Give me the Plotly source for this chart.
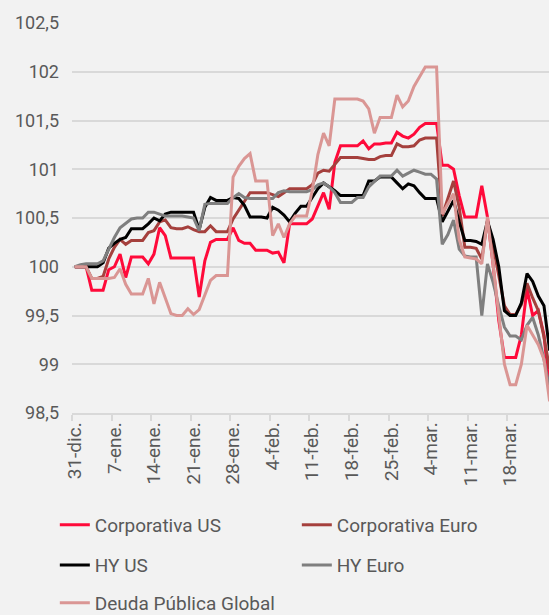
import pandas as pd
import plotly.graph_objects as go

# ---- categories (calendar days) and tick labels ----
dates = pd.date_range("2018-12-31", "2019-03-25", freq="D")
tick_dates = pd.date_range("2018-12-31", "2019-03-18", freq="7D")
tick_labels = ["31-dic.", "7-ene.", "14-ene.", "21-ene.", "28-ene.", "4-feb.",
               "11-feb.", "18-feb.", "25-feb.", "4-mar.", "11-mar.", "18-mar."]

# ---- series values (base 100) ----
corp_us = [
    100.00, 100.00, 100.00, 99.76, 99.76, 99.76, 99.97, 100.00, 100.13, 99.89,
    100.10, 100.10, 100.10, 100.03, 100.13, 100.40, 100.32, 100.09, 100.09, 100.09,
    100.09, 100.09, 99.69, 100.06, 100.25, 100.28, 100.28, 100.28, 100.40, 100.27,
    100.24, 100.24, 100.17, 100.17, 100.17, 100.14, 100.15, 100.04, 100.44, 100.44,
    100.44, 100.44, 100.49, 100.62, 100.76, 100.59, 101.07, 101.24, 101.24, 101.24,
    101.24, 101.29, 101.21, 101.26, 101.26, 101.27, 101.27, 101.38, 101.34, 101.32,
    101.36, 101.43, 101.47, 101.47, 101.47, 101.04, 101.04, 101.00, 100.73, 100.51,
    100.51, 100.51, 100.83, 100.51, 100.02, 99.45, 99.07, 99.07, 99.07, 99.30,
    99.77, 99.50, 99.55, 99.30, 98.72]

corp_eur = [
    100.00, 100.00, 100.00, 99.88, 99.88, 99.90, 100.08, 100.20, 100.28, 100.23,
    100.27, 100.27, 100.27, 100.35, 100.37, 100.46, 100.48, 100.40, 100.39, 100.39,
    100.41, 100.38, 100.36, 100.36, 100.42, 100.36, 100.36, 100.36, 100.49, 100.58,
    100.67, 100.76, 100.76, 100.76, 100.76, 100.74, 100.72, 100.76, 100.80, 100.80,
    100.80, 100.80, 100.84, 100.96, 100.99, 100.98, 101.05, 101.12, 101.12, 101.12,
    101.12, 101.11, 101.10, 101.10, 101.13, 101.14, 101.14, 101.26, 101.23, 101.23,
    101.24, 101.30, 101.32, 101.32, 101.32, 100.52, 100.70, 100.88, 100.61, 100.20,
    100.20, 100.19, 100.08, 100.47, 100.22, 99.90, 99.60, 99.51, 99.51, 99.61,
    99.83, 99.68, 99.55, 99.28, 98.95]

hy_us = [
    100.00, 100.00, 100.00, 100.00, 100.00, 100.04, 100.19, 100.24, 100.28, 100.30,
    100.39, 100.39, 100.39, 100.44, 100.50, 100.47, 100.54, 100.56, 100.56, 100.56,
    100.56, 100.56, 100.38, 100.61, 100.71, 100.68, 100.68, 100.68, 100.71, 100.70,
    100.63, 100.51, 100.51, 100.51, 100.50, 100.61, 100.58, 100.53, 100.46, 100.55,
    100.62, 100.62, 100.71, 100.80, 100.86, 100.82, 100.78, 100.73, 100.73, 100.73,
    100.73, 100.73, 100.88, 100.88, 100.92, 100.92, 100.92, 100.86, 100.80, 100.85,
    100.83, 100.76, 100.70, 100.70, 100.70, 100.46, 100.57, 100.68, 100.46, 100.27,
    100.27, 100.26, 100.23, 100.47, 100.28, 100.00, 99.55, 99.50, 99.50, 99.63,
    99.93, 99.85, 99.70, 99.60, 99.14]

hy_eur = [
    100.00, 100.02, 100.03, 100.03, 100.03, 100.06, 100.18, 100.30, 100.40, 100.45,
    100.49, 100.50, 100.50, 100.56, 100.56, 100.54, 100.52, 100.52, 100.52, 100.52,
    100.51, 100.50, 100.37, 100.64, 100.65, 100.65, 100.65, 100.65, 100.71, 100.75,
    100.71, 100.70, 100.70, 100.70, 100.70, 100.70, 100.76, 100.78, 100.77, 100.77,
    100.77, 100.77, 100.79, 100.84, 100.86, 100.82, 100.76, 100.66, 100.66, 100.66,
    100.71, 100.71, 100.82, 100.88, 100.93, 100.93, 100.93, 100.99, 100.93, 100.96,
    100.99, 100.97, 100.95, 100.95, 100.90, 100.23, 100.33, 100.48, 100.18, 100.11,
    100.10, 100.10, 99.50, 100.03, 99.84, 99.60, 99.38, 99.29, 99.29, 99.25,
    99.40, 99.48, 99.30, 99.05, 98.75]

deuda_pub = [
    100.00, 100.00, 100.00, 99.88, 99.88, 99.88, 99.88, 99.89, 99.98, 99.82,
    99.72, 99.72, 99.72, 99.88, 99.62, 99.84, 99.68, 99.52, 99.50, 99.50,
    99.57, 99.51, 99.56, 99.70, 99.86, 99.91, 99.91, 99.91, 100.92, 101.03,
    101.11, 101.16, 100.88, 100.88, 100.88, 100.32, 100.44, 100.30, 100.44, 100.52,
    100.52, 100.52, 100.78, 101.15, 101.37, 101.24, 101.72, 101.72, 101.72, 101.72,
    101.72, 101.70, 101.62, 101.37, 101.53, 101.53, 101.53, 101.76, 101.64, 101.70,
    101.85, 101.95, 102.05, 102.05, 102.05, 100.54, 100.65, 100.75, 100.28, 100.10,
    100.09, 100.08, 100.03, 100.51, 100.02, 99.51, 99.00, 98.79, 98.79, 99.00,
    99.40, 99.30, 99.20, 99.05, 98.62]

series = [
    ("Corporativa US", corp_us, "#FF0A3A", "legend"),
    ("Corporativa Euro", corp_eur, "#A5403D", "legend"),
    ("HY US", hy_us, "#000000", "legend2"),
    ("HY Euro", hy_eur, "#7F7F7F", "legend2"),
    ("Deuda Pública Global", deuda_pub, "#DA9694", "legend3"),
]

FONT = "Roboto, 'Open Sans', Arial, sans-serif"
TXT = "#595959"
GRID = "#D9D9D9"

fig = go.Figure()
for name, vals, color, lg in series:
    fig.add_trace(go.Scatter(
        x=dates, y=vals, name=name, mode="lines",
        line=dict(color=color, width=3),
        legend=lg,
    ))

boundaries = [d - pd.Timedelta(hours=12) for d in tick_dates]

legend_common = dict(
    orientation="h", xanchor="left", yanchor="middle",
    entrywidth=197, entrywidthmode="pixels",
    font=dict(family=FONT, size=19, color=TXT),
    bgcolor="rgba(0,0,0,0)", borderwidth=0,
)

fig.update_layout(
    width=549, height=615,
    margin=dict(l=72, r=0, t=23, b=202, autoexpand=False),
    paper_bgcolor="#F2F2F2", plot_bgcolor="#F2F2F2",
    separators=",.",
    font=dict(family=FONT, color=TXT),
    legend=dict(legend_common, x=-0.036, y=-0.287),
    legend2=dict(legend_common, x=-0.036, y=-0.39),
    legend3=dict(legend_common, x=-0.036, y=-0.487),
    xaxis=dict(
        type="date",
        range=[boundaries[0], pd.Timestamp("2019-03-24 21:20")],
        tickmode="array", tickvals=list(tick_dates), ticktext=tick_labels,
        tickangle=-90, ticks="", ticklabelstandoff=0,
        tickfont=dict(family=FONT, size=19, color=TXT),
        showgrid=False, zeroline=False,
        showline=True, linecolor=GRID, linewidth=1.5,
        minor=dict(tickvals=boundaries, ticks="outside", ticklen=6,
                   tickwidth=1.5, tickcolor=GRID, showgrid=False),
    ),
    yaxis=dict(
        range=[98.5, 102.5], tickmode="linear", tick0=98.5, dtick=0.5,
        showgrid=True, gridcolor=GRID, gridwidth=1.5,
        zeroline=False, showline=False, ticks="",
        ticklabelstandoff=12,
        tickfont=dict(family=FONT, size=18, color=TXT),
    ),
)

fig.write_html("out.html", config={"displayModeBar": False},
               post_script="document.body.style.margin='0px';")
